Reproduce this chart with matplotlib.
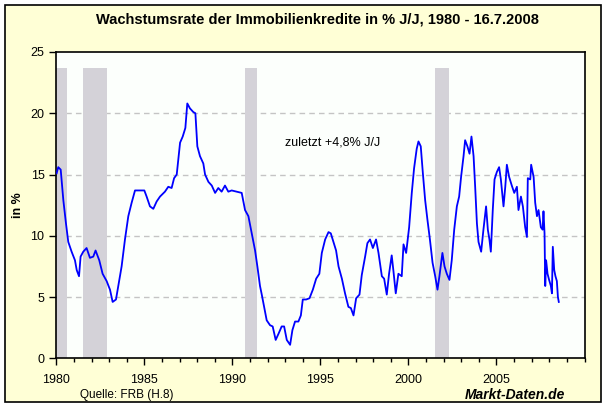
import matplotlib
matplotlib.use("Agg")
import matplotlib.pyplot as plt
from matplotlib.patches import Rectangle
from matplotlib.ticker import MultipleLocator

# Wachstumsrate der Immobilienkredite (% J/J)
years = [1980.02, 1980.11, 1980.25, 1980.4, 1980.55, 1980.68, 1980.87, 1981.06, 1981.16, 1981.29,
         1981.38, 1981.53, 1981.72, 1981.91, 1982.1, 1982.23, 1982.44, 1982.63, 1982.86, 1983.05,
         1983.2, 1983.39, 1983.52, 1983.71, 1983.9, 1984.09, 1984.28, 1984.47, 1984.75, 1985.0,
         1985.13, 1985.32, 1985.51, 1985.7, 1985.89, 1986.17, 1986.36, 1986.55, 1986.69, 1986.84,
         1986.93, 1987.03, 1987.18, 1987.33, 1987.44, 1987.59, 1987.78, 1987.9, 1988.01, 1988.16,
         1988.35, 1988.45, 1988.64, 1988.83, 1989.02, 1989.2, 1989.39, 1989.58, 1989.77, 1989.96,
         1990.25, 1990.53, 1990.72, 1990.91, 1991.1, 1991.29, 1991.42, 1991.57, 1991.67, 1991.82,
         1991.95, 1992.14, 1992.29, 1992.46, 1992.62, 1992.8, 1992.94, 1993.09, 1993.28, 1993.41,
         1993.56, 1993.75, 1993.89, 1994.0, 1994.19, 1994.38, 1994.57, 1994.76, 1994.94, 1995.08,
         1995.27, 1995.46, 1995.59, 1995.74, 1995.89, 1996.03, 1996.22, 1996.4, 1996.59, 1996.73,
         1996.88, 1997.03, 1997.22, 1997.35, 1997.54, 1997.67, 1997.82, 1997.98, 1998.16, 1998.3,
         1998.49, 1998.62, 1998.77, 1998.9, 1999.05, 1999.15, 1999.28, 1999.43, 1999.62, 1999.72,
         1999.87, 2000.04, 2000.19, 2000.32, 2000.47, 2000.57, 2000.7, 2000.82, 2000.95, 2001.08,
         2001.22, 2001.37, 2001.52, 2001.65, 2001.76, 2001.93, 2002.05, 2002.18, 2002.33, 2002.46,
         2002.6, 2002.75, 2002.88, 2002.99, 2003.13, 2003.22, 2003.35, 2003.47, 2003.58, 2003.7,
         2003.79, 2003.89, 2003.98, 2004.13, 2004.26, 2004.41, 2004.51, 2004.6, 2004.68, 2004.79,
         2004.89, 2005.02, 2005.15, 2005.25, 2005.4, 2005.5, 2005.59, 2005.72, 2005.87, 2006.01,
         2006.16, 2006.25, 2006.39, 2006.5, 2006.63, 2006.73, 2006.78, 2006.92, 2006.97, 2007.11,
         2007.2, 2007.3, 2007.39, 2007.52, 2007.62, 2007.67, 2007.73, 2007.77, 2007.82, 2007.9,
         2007.99, 2008.09, 2008.15, 2008.2, 2008.28, 2008.35, 2008.43, 2008.49, 2008.54]
growth = [15.1, 15.6, 15.4, 12.9, 11.0, 9.5, 8.7, 8.0, 7.2, 6.7,
          8.3, 8.7, 9.0, 8.2, 8.3, 8.8, 8.0, 6.9, 6.3, 5.6,
          4.6, 4.8, 5.9, 7.5, 9.7, 11.6, 12.7, 13.7, 13.7, 13.7,
          13.2, 12.4, 12.2, 12.8, 13.2, 13.6, 14.0, 13.9, 14.7, 15.0,
          16.2, 17.6, 18.1, 18.8, 20.8, 20.4, 20.1, 20.0, 17.3, 16.5,
          15.9, 15.0, 14.4, 14.1, 13.5, 13.9, 13.6, 14.1, 13.6, 13.7,
          13.6, 13.5, 12.1, 11.6, 10.2, 8.8, 7.5, 5.9, 5.2, 4.1,
          3.1, 2.7, 2.6, 1.5, 2.0, 2.6, 2.6, 1.5, 1.1, 2.3,
          3.0, 3.0, 3.5, 4.8, 4.8, 4.9, 5.6, 6.5, 6.9, 8.6,
          9.7, 10.3, 10.2, 9.5, 8.8, 7.5, 6.5, 5.3, 4.2, 4.1,
          3.5, 4.9, 5.2, 6.8, 8.3, 9.4, 9.7, 9.0, 9.7, 8.6,
          6.7, 6.5, 5.2, 6.9, 8.4, 7.1, 5.3, 6.9, 6.7, 9.3,
          8.6, 10.7, 13.5, 15.5, 17.1, 17.7, 17.3, 15.1, 12.9, 11.3,
          9.7, 7.8, 6.7, 5.6, 6.7, 8.6, 7.5, 6.9, 6.4, 8.0,
          10.5, 12.4, 13.2, 14.8, 16.5, 17.8, 17.3, 16.7, 18.1, 16.5,
          14.0, 11.0, 9.5, 8.7, 10.5, 12.4, 10.5, 9.7, 8.7, 12.1,
          14.6, 15.2, 15.6, 14.6, 12.4, 14.0, 15.8, 14.8, 14.1, 13.5,
          14.0, 12.1, 13.2, 12.4, 10.7, 9.9, 14.7, 14.6, 15.8, 14.8,
          12.7, 11.6, 12.1, 10.7, 10.5, 12.0, 10.2, 5.9, 8.0, 6.9,
          6.4, 5.9, 5.3, 9.1, 7.2, 6.7, 6.3, 5.0, 4.6]

# Rezessionen (Start, Ende)
rec_start = [1980.0, 1981.5, 1990.7, 2001.5]
rec_end = [1980.6, 1982.9, 1991.4, 2002.3]
rec_top = 23.7

plt.rcParams['font.family'] = ['Liberation Sans', 'DejaVu Sans']

fig = plt.figure(figsize=(6.06, 4.08), dpi=100)
fig.patch.set_facecolor('white')
fig.add_artist(Rectangle((5 / 606, 6 / 408), 596 / 606, 397 / 408, transform=fig.transFigure,
                         facecolor='#FFFFD6', edgecolor='black', linewidth=1.2, zorder=-10))

ax = fig.add_axes([56.3 / 606, 49.7 / 408, 528.2 / 606, 306.3 / 408])
ax.set_facecolor('#FCFFFC')

for s, e in zip(rec_start, rec_end):
    ax.axvspan(s, e, ymin=0, ymax=rec_top / 25, facecolor='#D4D2D8', edgecolor='none', zorder=1)

ax.plot(years, growth, color='#0000FF', linewidth=1.3, zorder=3)

ax.set_xlim(1980, 2010)
ax.set_ylim(0, 25)
ax.xaxis.set_major_locator(MultipleLocator(5))
ax.xaxis.set_minor_locator(MultipleLocator(1))
ax.yaxis.set_major_locator(MultipleLocator(5))
ax.set_xticks([1980, 1985, 1990, 1995, 2000, 2005])
ax.tick_params(axis='both', which='major', direction='out', length=5, width=1, labelsize=9, colors='black')
ax.tick_params(axis='x', which='minor', direction='out', length=3, width=1)
ax.tick_params(axis='x', pad=6)

for y in [5, 10, 15, 20]:
    ax.axhline(y, color='#C4C4C4', linestyle=(0, (4, 3)), linewidth=1, zorder=0)

for sp in ax.spines.values():
    sp.set_color('black')
    sp.set_linewidth(1.2)

ax.set_ylabel('in %', fontsize=9, fontweight='bold', labelpad=5)
ax.text(1993.0, 17.6, 'zuletzt +4,8% J/J', fontsize=9, va='center', ha='left')

fig.text(317 / 606, 1 - 20 / 408, 'Wachstumsrate der Immobilienkredite in % J/J, 1980 - 16.7.2008',
         fontsize=10.5, fontweight='bold', ha='center', va='center')
fig.text(80 / 606, 1 - 395 / 408, 'Quelle: FRB (H.8)', fontsize=8.5, ha='left', va='center')
fig.text(565 / 606, 1 - 395 / 408, 'Markt-Daten.de', fontsize=10, fontweight='bold', style='italic',
         ha='right', va='center')

fig.savefig('out.png', dpi=100, facecolor=fig.get_facecolor())
